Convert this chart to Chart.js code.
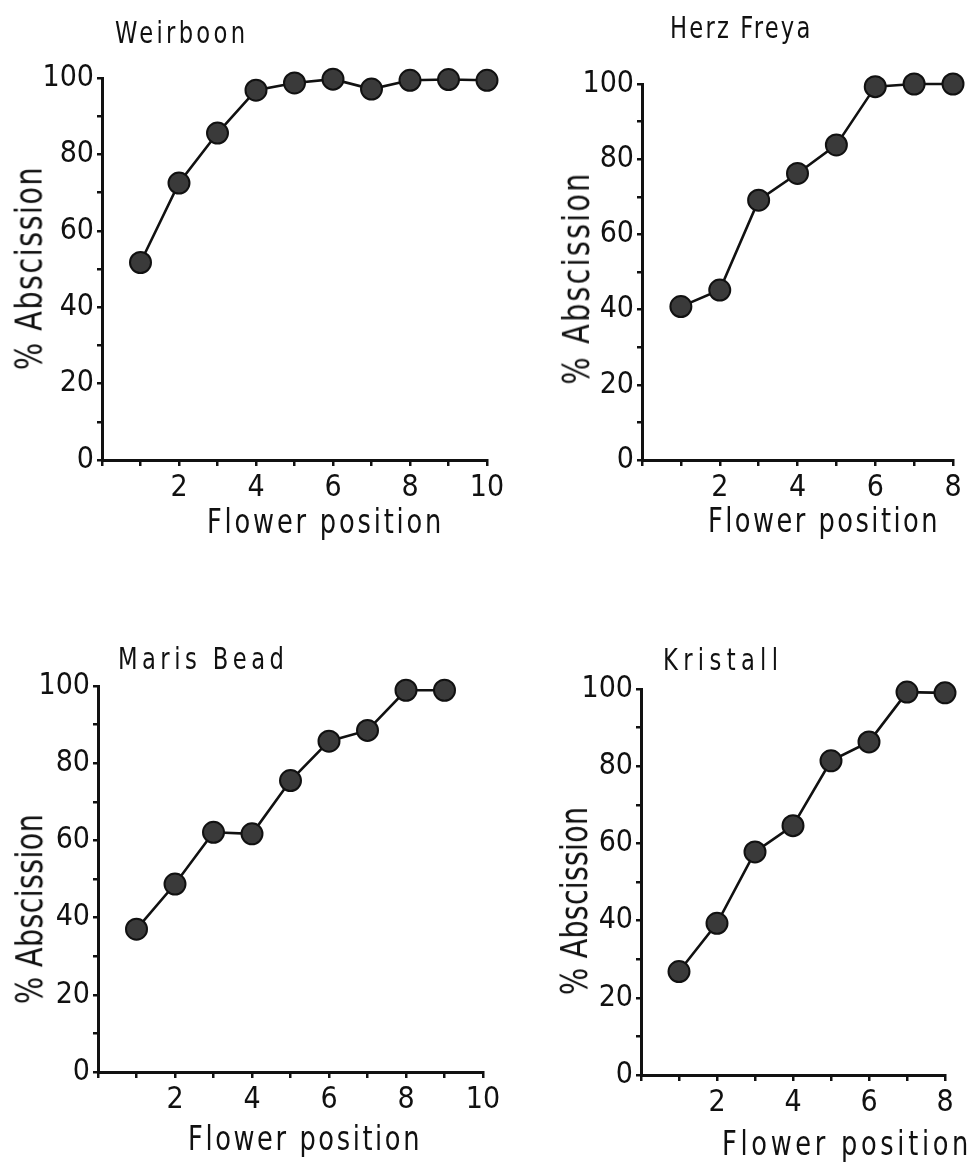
<!DOCTYPE html>
<html>
<head>
<meta charset="utf-8">
<script src="https://cdn.jsdelivr.net/npm/chart.js@4.4.1/dist/chart.umd.min.js"></script>
<style>
  body{margin:0;background:#fff;width:979px;height:1164px;position:relative;overflow:hidden;
       font-family:"DejaVu Sans Condensed","DejaVu Sans",sans-serif;color:#111}
  canvas{position:absolute}
  .lbl{position:absolute;white-space:nowrap;line-height:1}
</style>
</head>
<body>
<script>
// % abscission by flower position, one pair of arrays per cultivar
const weirboonPos=[1,2,3,4,5,6,7,8,9,10]
const weirboonVal=[51.7,72.5,85.6,96.8,98.7,99.7,97.1,99.4,99.6,99.4]
const herzPos=[1,2,3,4,5,6,7,8]
const herzVal=[40.8,45.2,69.1,76.2,83.8,99.3,100,100]
const marisPos=[1,2,3,4,5,6,7,8,9]
const marisVal=[37,48.7,62.1,61.7,75.5,85.7,88.5,98.9,98.9]
const kristallPos=[1,2,3,4,5,6,7,8]
const kristallVal=[26.8,39.3,57.8,64.6,81.4,86.3,99.2,99]

const yTickLabels=[0,20,40,60,80,100]
const xTickLabels10=[2,4,6,8,10]
const xTickLabels8=[2,4,6,8]

const yTitle='% Abscission'
const xTitle='Flower position'

// canvas box [left,top,w,h], padding, axis box sizes, and text spots
// title/xt: [left, cap top, width]   yt: [centre x, centre y, length]
const panels=[
  {name:'Weirboon',pos:weirboonPos,val:weirboonVal,xMax:10,xLabels:xTickLabels10,
   box:[0,40,510,470],pad:{left:0,top:38,right:23,bottom:10},yW:102,xH:40,
   title:[115,21,133],xt:[207,508,237],yt:[28,268,204]},
  {name:'Herz  Freya',pos:herzPos,val:herzVal,xMax:8,xLabels:xTickLabels8,
   box:[490,40,489,470],pad:{left:0,top:44,right:26,bottom:10},yW:152,xH:40,
   title:[670,16,145],xt:[708,507,232],yt:[576,278,213]},
  {name:'Maris  Bead',pos:marisPos,val:marisVal,xMax:10,xLabels:xTickLabels10,
   box:[0,640,510,524],pad:{left:0,top:46,right:27,bottom:52},yW:98,xH:40,
   title:[118,647,175],xt:[188,1125,234],yt:[29,909,190]},
  {name:'Kristall',pos:kristallPos,val:kristallVal,xMax:8,xLabels:xTickLabels8,
   box:[490,640,489,524],pad:{left:0,top:49,right:34,bottom:49},yW:151,xH:40,
   title:[663,648,120],xt:[722,1130,250],yt:[574,901,188]}
]

const ink='#111'
const tickFont={family:'"DejaVu Sans Condensed","DejaVu Sans",sans-serif',size:30}
const squeeze=0.84   // lettering is narrower than the installed fonts

// text box of given size, squeezed sideways and spaced out to a set width
function label(text,size,w,rot){
  const d=document.createElement('div')
  d.className='lbl'
  d.textContent=text
  d.style.fontSize=size+'px'
  document.body.appendChild(d)
  const nat=d.offsetWidth
  d.style.letterSpacing=((w/squeeze-nat)/text.length)+'px'
  d.style.transformOrigin=rot?'50% 50%':'0 0'
  d.style.transform=(rot?'rotate(-90deg) ':'')+'scaleX('+squeeze+')'
  return d
}

panels.forEach(p=>{
  const c=document.createElement('canvas')
  c.width=p.box[2]; c.height=p.box[3]
  c.style.left=p.box[0]+'px'; c.style.top=p.box[1]+'px'
  document.body.appendChild(c)

  new Chart(c,{
    type:'line',
    data:{datasets:[{
      data:p.pos.map((x,i)=>({x:x,y:p.val[i]})),
      borderColor:ink,borderWidth:2.6,tension:0,clip:false,
      pointRadius:10.5,pointBackgroundColor:'#3a3a3a',pointBorderColor:ink,pointBorderWidth:2
    }]},
    options:{
      responsive:false,animation:false,
      layout:{padding:p.pad},
      plugins:{legend:{display:false},tooltip:{enabled:false}},
      scales:{
        x:{type:'linear',min:0,max:p.xMax,
          ticks:{stepSize:1,autoSkip:false,maxRotation:0,padding:4,color:ink,font:tickFont,
                 callback:v=>p.xLabels.includes(v)?String(v):''},
          grid:{drawOnChartArea:false,tickLength:6,color:ink,lineWidth:2.5},
          border:{color:ink,width:3},
          afterFit:s=>{s.height=p.xH}},
        y:{min:0,max:100,
          ticks:{stepSize:10,autoSkip:false,padding:3,color:ink,font:tickFont,
                 callback:v=>yTickLabels.includes(v)?String(v):''},
          grid:{drawOnChartArea:false,tickLength:5,color:ink,lineWidth:2.5},
          border:{color:ink,width:3},
          afterFit:s=>{s.width=p.yW}}
      }
    }
  })

  const t=label(p.name,30,p.title[2],false)
  t.style.left=p.title[0]+'px'; t.style.top=(p.title[1]-3.5)+'px'

  const xl=label(xTitle,34,p.xt[2],false)
  xl.style.left=p.xt[0]+'px'; xl.style.top=(p.xt[1]-4)+'px'

  const yl=label(yTitle,38,p.yt[2],true)
  yl.style.left=(p.yt[0]-yl.offsetWidth/2)+'px'
  yl.style.top=(p.yt[1]-yl.offsetHeight/2)+'px'
})
</script>
</body>
</html>
